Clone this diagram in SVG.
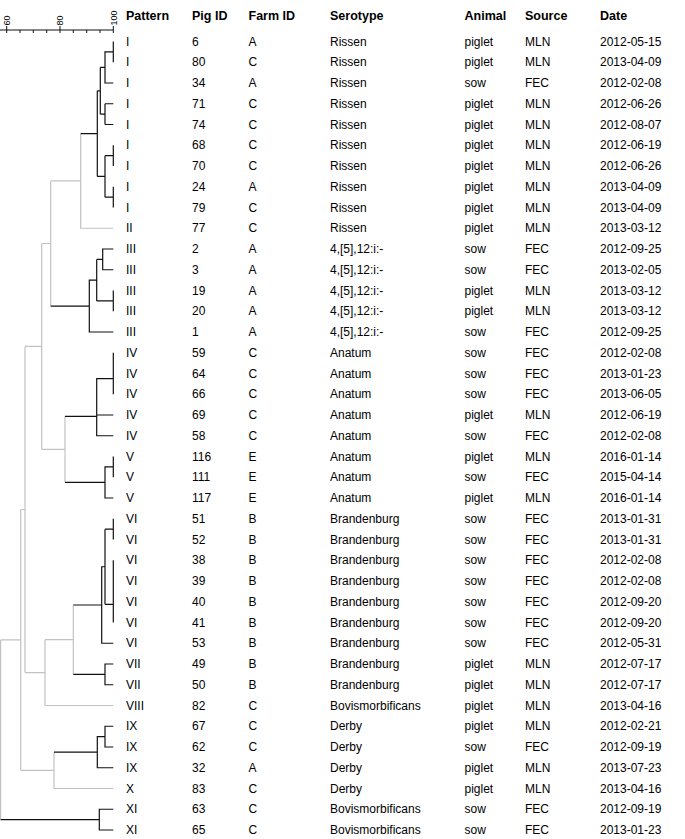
<svg xmlns="http://www.w3.org/2000/svg" width="685" height="839" viewBox="0 0 685 839">
<style>
text{font-family:"Liberation Sans",Arial,sans-serif;font-size:12px;fill:#000}
.h{font-weight:bold;font-size:12.5px}
.ax{font-size:9px}
.blk{fill:none;stroke:#111;stroke-width:1.2}
.gry{fill:none;stroke:#c2c2c2;stroke-width:1.2}
.axl{fill:none;stroke:#111;stroke-width:1}
</style>
<rect width="685" height="839" fill="#fff"/>
<g id="scale">
<path class="axl" d="M0,30 H113.3 M6.7,26 V33 M60,26 V33 M113.3,26 V33 M20,30 V33 M33.3,30 V33 M46.7,30 V33 M73.3,30 V33 M86.7,30 V33 M100,30 V33"/>
<text class="ax" transform="translate(9.9,25.5) rotate(-90)">60</text>
<text class="ax" transform="translate(63.2,25.5) rotate(-90)">80</text>
<text class="ax" transform="translate(116.5,25.5) rotate(-90)">100</text>
</g>
<g id="connectors">
<path class="gry" d="M80.7,133.58 V228.25 H113.3 M80.7,180.9 H50.7 M50.7,180.9 V306.06 M50.7,243.48 H41.7 M65,416.3 V482.44 M65,449.37 H41.7 M41.7,243.48 V449.37 M41.7,346.4 H25 M73.3,604.99 V674.375 M73.3,639.68 H45 M45,639.68 V705.5 H113.3 M45,672.59 H25 M25,346.4 V672.59 M25,509.5 H20.7 M54,752.19 V788.5 H113.3 M54,770.34 H20.7 M20.7,509.5 V770.34 M20.7,639.92 H0.6 M0.6,639.92 V819.625"/>
<path class="blk" d="M113.3,41.5 V62.25 M113.3,51.875 H105 V83 H113.3 M105,67.44 H100.3 M105,103.75 H113.3 M105,124.5 H113.3 M105,103.75 V124.5 M105,114.125 H100.3 M100.3,67.44 V114.125 M100.3,90.78 H97.3 M113.3,145.25 V166 M113.3,155.625 H105 M113.3,186.75 V207.5 M113.3,197.125 H105 M105,155.625 V197.125 M105,176.375 H97.3 M97.3,90.78 V176.375 M97.3,133.58 H80.7"/>
<path class="blk" d="M113.3,249 H102.7 V269.75 H113.3 M102.7,259.375 H96.7 M113.3,290.5 V311.25 M113.3,300.875 H96.7 M96.7,259.375 V300.875 M96.7,280.125 H89.3 V332 H113.3 M89.3,306.06 H50.7"/>
<path class="blk" d="M113.3,352.75 V394.25 M113.3,378.69 H96.7 V435.75 H113.3 M96.7,415 H113.3 M96.7,416.3 H65 M113.3,456.5 V477.25 M113.3,466.875 H105 V498 H113.3 M105,482.44 H65"/>
<path class="blk" d="M113.3,518.75 V539.5 M113.3,529.125 H105 M113.3,560.25 V622.5 M113.3,604.34 H105 M105,529.125 V604.34 M105,566.73 H101.7 V643.25 H113.3 M101.7,604.99 H73.3 M113.3,664 H105 V684.75 H113.3 M105,674.375 H73.3"/>
<path class="blk" d="M113.3,726.25 H105 V747 H113.3 M105,736.625 H97.3 V767.75 H113.3 M97.3,752.19 H54"/>
<path class="blk" d="M113.3,809.25 H99.3 V830 H113.3 M99.3,819.625 H0.6"/>
</g>
<g id="header">
<text class="h" x="126" y="19.5">Pattern</text>
<text class="h" x="192" y="19.5">Pig ID</text>
<text class="h" x="248.5" y="19.5">Farm ID</text>
<text class="h" x="330" y="19.5">Serotype</text>
<text class="h" x="464.5" y="19.5">Animal</text>
<text class="h" x="525" y="19.5">Source</text>
<text class="h" x="600" y="19.5">Date</text>
</g>
<g id="row0"><text x="126" y="45.7">I</text><text x="192" y="45.7">6</text><text x="248.5" y="45.7">A</text><text x="330" y="45.7">Rissen</text><text x="464.5" y="45.7">piglet</text><text x="525" y="45.7">MLN</text><text x="600" y="45.7">2012-05-15</text></g>
<g id="row1"><text x="126" y="66.45">I</text><text x="192" y="66.45">80</text><text x="248.5" y="66.45">C</text><text x="330" y="66.45">Rissen</text><text x="464.5" y="66.45">piglet</text><text x="525" y="66.45">MLN</text><text x="600" y="66.45">2013-04-09</text></g>
<g id="row2"><text x="126" y="87.2">I</text><text x="192" y="87.2">34</text><text x="248.5" y="87.2">A</text><text x="330" y="87.2">Rissen</text><text x="464.5" y="87.2">sow</text><text x="525" y="87.2">FEC</text><text x="600" y="87.2">2012-02-08</text></g>
<g id="row3"><text x="126" y="107.95">I</text><text x="192" y="107.95">71</text><text x="248.5" y="107.95">C</text><text x="330" y="107.95">Rissen</text><text x="464.5" y="107.95">piglet</text><text x="525" y="107.95">MLN</text><text x="600" y="107.95">2012-06-26</text></g>
<g id="row4"><text x="126" y="128.7">I</text><text x="192" y="128.7">74</text><text x="248.5" y="128.7">C</text><text x="330" y="128.7">Rissen</text><text x="464.5" y="128.7">piglet</text><text x="525" y="128.7">MLN</text><text x="600" y="128.7">2012-08-07</text></g>
<g id="row5"><text x="126" y="149.45">I</text><text x="192" y="149.45">68</text><text x="248.5" y="149.45">C</text><text x="330" y="149.45">Rissen</text><text x="464.5" y="149.45">piglet</text><text x="525" y="149.45">MLN</text><text x="600" y="149.45">2012-06-19</text></g>
<g id="row6"><text x="126" y="170.2">I</text><text x="192" y="170.2">70</text><text x="248.5" y="170.2">C</text><text x="330" y="170.2">Rissen</text><text x="464.5" y="170.2">piglet</text><text x="525" y="170.2">MLN</text><text x="600" y="170.2">2012-06-26</text></g>
<g id="row7"><text x="126" y="190.95">I</text><text x="192" y="190.95">24</text><text x="248.5" y="190.95">A</text><text x="330" y="190.95">Rissen</text><text x="464.5" y="190.95">piglet</text><text x="525" y="190.95">MLN</text><text x="600" y="190.95">2013-04-09</text></g>
<g id="row8"><text x="126" y="211.7">I</text><text x="192" y="211.7">79</text><text x="248.5" y="211.7">C</text><text x="330" y="211.7">Rissen</text><text x="464.5" y="211.7">piglet</text><text x="525" y="211.7">MLN</text><text x="600" y="211.7">2013-04-09</text></g>
<g id="row9"><text x="126" y="232.45">II</text><text x="192" y="232.45">77</text><text x="248.5" y="232.45">C</text><text x="330" y="232.45">Rissen</text><text x="464.5" y="232.45">piglet</text><text x="525" y="232.45">MLN</text><text x="600" y="232.45">2013-03-12</text></g>
<g id="row10"><text x="126" y="253.2">III</text><text x="192" y="253.2">2</text><text x="248.5" y="253.2">A</text><text x="330" y="253.2">4,[5],12:i:-</text><text x="464.5" y="253.2">sow</text><text x="525" y="253.2">FEC</text><text x="600" y="253.2">2012-09-25</text></g>
<g id="row11"><text x="126" y="273.95">III</text><text x="192" y="273.95">3</text><text x="248.5" y="273.95">A</text><text x="330" y="273.95">4,[5],12:i:-</text><text x="464.5" y="273.95">sow</text><text x="525" y="273.95">FEC</text><text x="600" y="273.95">2013-02-05</text></g>
<g id="row12"><text x="126" y="294.7">III</text><text x="192" y="294.7">19</text><text x="248.5" y="294.7">A</text><text x="330" y="294.7">4,[5],12:i:-</text><text x="464.5" y="294.7">piglet</text><text x="525" y="294.7">MLN</text><text x="600" y="294.7">2013-03-12</text></g>
<g id="row13"><text x="126" y="315.45">III</text><text x="192" y="315.45">20</text><text x="248.5" y="315.45">A</text><text x="330" y="315.45">4,[5],12:i:-</text><text x="464.5" y="315.45">piglet</text><text x="525" y="315.45">MLN</text><text x="600" y="315.45">2013-03-12</text></g>
<g id="row14"><text x="126" y="336.2">III</text><text x="192" y="336.2">1</text><text x="248.5" y="336.2">A</text><text x="330" y="336.2">4,[5],12:i:-</text><text x="464.5" y="336.2">sow</text><text x="525" y="336.2">FEC</text><text x="600" y="336.2">2012-09-25</text></g>
<g id="row15"><text x="126" y="356.95">IV</text><text x="192" y="356.95">59</text><text x="248.5" y="356.95">C</text><text x="330" y="356.95">Anatum</text><text x="464.5" y="356.95">sow</text><text x="525" y="356.95">FEC</text><text x="600" y="356.95">2012-02-08</text></g>
<g id="row16"><text x="126" y="377.7">IV</text><text x="192" y="377.7">64</text><text x="248.5" y="377.7">C</text><text x="330" y="377.7">Anatum</text><text x="464.5" y="377.7">sow</text><text x="525" y="377.7">FEC</text><text x="600" y="377.7">2013-01-23</text></g>
<g id="row17"><text x="126" y="398.45">IV</text><text x="192" y="398.45">66</text><text x="248.5" y="398.45">C</text><text x="330" y="398.45">Anatum</text><text x="464.5" y="398.45">sow</text><text x="525" y="398.45">FEC</text><text x="600" y="398.45">2013-06-05</text></g>
<g id="row18"><text x="126" y="419.2">IV</text><text x="192" y="419.2">69</text><text x="248.5" y="419.2">C</text><text x="330" y="419.2">Anatum</text><text x="464.5" y="419.2">piglet</text><text x="525" y="419.2">MLN</text><text x="600" y="419.2">2012-06-19</text></g>
<g id="row19"><text x="126" y="439.95">IV</text><text x="192" y="439.95">58</text><text x="248.5" y="439.95">C</text><text x="330" y="439.95">Anatum</text><text x="464.5" y="439.95">sow</text><text x="525" y="439.95">FEC</text><text x="600" y="439.95">2012-02-08</text></g>
<g id="row20"><text x="126" y="460.7">V</text><text x="192" y="460.7">116</text><text x="248.5" y="460.7">E</text><text x="330" y="460.7">Anatum</text><text x="464.5" y="460.7">piglet</text><text x="525" y="460.7">MLN</text><text x="600" y="460.7">2016-01-14</text></g>
<g id="row21"><text x="126" y="481.45">V</text><text x="192" y="481.45">111</text><text x="248.5" y="481.45">E</text><text x="330" y="481.45">Anatum</text><text x="464.5" y="481.45">sow</text><text x="525" y="481.45">FEC</text><text x="600" y="481.45">2015-04-14</text></g>
<g id="row22"><text x="126" y="502.2">V</text><text x="192" y="502.2">117</text><text x="248.5" y="502.2">E</text><text x="330" y="502.2">Anatum</text><text x="464.5" y="502.2">piglet</text><text x="525" y="502.2">MLN</text><text x="600" y="502.2">2016-01-14</text></g>
<g id="row23"><text x="126" y="522.95">VI</text><text x="192" y="522.95">51</text><text x="248.5" y="522.95">B</text><text x="330" y="522.95">Brandenburg</text><text x="464.5" y="522.95">sow</text><text x="525" y="522.95">FEC</text><text x="600" y="522.95">2013-01-31</text></g>
<g id="row24"><text x="126" y="543.7">VI</text><text x="192" y="543.7">52</text><text x="248.5" y="543.7">B</text><text x="330" y="543.7">Brandenburg</text><text x="464.5" y="543.7">sow</text><text x="525" y="543.7">FEC</text><text x="600" y="543.7">2013-01-31</text></g>
<g id="row25"><text x="126" y="564.45">VI</text><text x="192" y="564.45">38</text><text x="248.5" y="564.45">B</text><text x="330" y="564.45">Brandenburg</text><text x="464.5" y="564.45">sow</text><text x="525" y="564.45">FEC</text><text x="600" y="564.45">2012-02-08</text></g>
<g id="row26"><text x="126" y="585.2">VI</text><text x="192" y="585.2">39</text><text x="248.5" y="585.2">B</text><text x="330" y="585.2">Brandenburg</text><text x="464.5" y="585.2">sow</text><text x="525" y="585.2">FEC</text><text x="600" y="585.2">2012-02-08</text></g>
<g id="row27"><text x="126" y="605.95">VI</text><text x="192" y="605.95">40</text><text x="248.5" y="605.95">B</text><text x="330" y="605.95">Brandenburg</text><text x="464.5" y="605.95">sow</text><text x="525" y="605.95">FEC</text><text x="600" y="605.95">2012-09-20</text></g>
<g id="row28"><text x="126" y="626.7">VI</text><text x="192" y="626.7">41</text><text x="248.5" y="626.7">B</text><text x="330" y="626.7">Brandenburg</text><text x="464.5" y="626.7">sow</text><text x="525" y="626.7">FEC</text><text x="600" y="626.7">2012-09-20</text></g>
<g id="row29"><text x="126" y="647.45">VI</text><text x="192" y="647.45">53</text><text x="248.5" y="647.45">B</text><text x="330" y="647.45">Brandenburg</text><text x="464.5" y="647.45">sow</text><text x="525" y="647.45">FEC</text><text x="600" y="647.45">2012-05-31</text></g>
<g id="row30"><text x="126" y="668.2">VII</text><text x="192" y="668.2">49</text><text x="248.5" y="668.2">B</text><text x="330" y="668.2">Brandenburg</text><text x="464.5" y="668.2">piglet</text><text x="525" y="668.2">MLN</text><text x="600" y="668.2">2012-07-17</text></g>
<g id="row31"><text x="126" y="688.95">VII</text><text x="192" y="688.95">50</text><text x="248.5" y="688.95">B</text><text x="330" y="688.95">Brandenburg</text><text x="464.5" y="688.95">piglet</text><text x="525" y="688.95">MLN</text><text x="600" y="688.95">2012-07-17</text></g>
<g id="row32"><text x="126" y="709.7">VIII</text><text x="192" y="709.7">82</text><text x="248.5" y="709.7">C</text><text x="330" y="709.7">Bovismorbificans</text><text x="464.5" y="709.7">piglet</text><text x="525" y="709.7">MLN</text><text x="600" y="709.7">2013-04-16</text></g>
<g id="row33"><text x="126" y="730.45">IX</text><text x="192" y="730.45">67</text><text x="248.5" y="730.45">C</text><text x="330" y="730.45">Derby</text><text x="464.5" y="730.45">piglet</text><text x="525" y="730.45">MLN</text><text x="600" y="730.45">2012-02-21</text></g>
<g id="row34"><text x="126" y="751.2">IX</text><text x="192" y="751.2">62</text><text x="248.5" y="751.2">C</text><text x="330" y="751.2">Derby</text><text x="464.5" y="751.2">sow</text><text x="525" y="751.2">FEC</text><text x="600" y="751.2">2012-09-19</text></g>
<g id="row35"><text x="126" y="771.95">IX</text><text x="192" y="771.95">32</text><text x="248.5" y="771.95">A</text><text x="330" y="771.95">Derby</text><text x="464.5" y="771.95">piglet</text><text x="525" y="771.95">MLN</text><text x="600" y="771.95">2013-07-23</text></g>
<g id="row36"><text x="126" y="792.7">X</text><text x="192" y="792.7">83</text><text x="248.5" y="792.7">C</text><text x="330" y="792.7">Derby</text><text x="464.5" y="792.7">piglet</text><text x="525" y="792.7">MLN</text><text x="600" y="792.7">2013-04-16</text></g>
<g id="row37"><text x="126" y="813.45">XI</text><text x="192" y="813.45">63</text><text x="248.5" y="813.45">C</text><text x="330" y="813.45">Bovismorbificans</text><text x="464.5" y="813.45">sow</text><text x="525" y="813.45">FEC</text><text x="600" y="813.45">2012-09-19</text></g>
<g id="row38"><text x="126" y="834.2">XI</text><text x="192" y="834.2">65</text><text x="248.5" y="834.2">C</text><text x="330" y="834.2">Bovismorbificans</text><text x="464.5" y="834.2">sow</text><text x="525" y="834.2">FEC</text><text x="600" y="834.2">2013-01-23</text></g>
</svg>
